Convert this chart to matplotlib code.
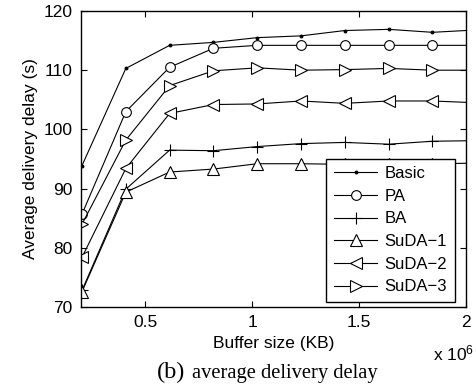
import matplotlib
matplotlib.use("Agg")
import matplotlib.pyplot as plt
from matplotlib.ticker import FuncFormatter

plt.rcParams['font.family'] = ['Liberation Sans', 'DejaVu Sans']
plt.rcParams['mathtext.fontset'] = 'custom'
plt.rcParams['mathtext.rm'] = 'Liberation Sans'
plt.rcParams['mathtext.it'] = 'Liberation Sans'

buffer_kb = [204800, 409600, 614400, 819200, 1024000, 1228800, 1433600, 1638400, 1843200, 2048000]
basic = [93.9, 110.3, 114.2, 114.7, 115.5, 115.8, 116.7, 116.9, 116.4, 116.8]
pa = [85.7, 103.0, 110.5, 113.7, 114.2, 114.2, 114.2, 114.2, 114.2, 114.2]
ba = [72.8, 89.9, 96.5, 96.4, 97.1, 97.6, 97.8, 97.5, 98.0, 98.1]
suda1 = [72.6, 89.4, 92.8, 93.3, 94.2, 94.2, 94.1, 94.2, 94.2, 94.3]
suda2 = [78.4, 93.4, 102.7, 104.2, 104.3, 104.8, 104.4, 104.8, 104.8, 104.5]
suda3 = [84.0, 98.2, 107.4, 109.9, 110.4, 110.0, 110.1, 110.3, 110.0, 110.0]

labels = ['Basic', 'PA', 'BA', 'SuDA\u22121', 'SuDA\u22122', 'SuDA\u22123']
xticks = [500000, 1000000, 1500000, 2000000]
yticks = [70, 80, 90, 100, 110, 120]

fig = plt.figure(figsize=(4.76, 3.91), dpi=100)
ax = fig.add_axes([81/476, 1 - 307/391, 385/476, 296/391])

series = [basic, pa, ba, suda1, suda2, suda3]
markers = ['.', 'o', '+', '^', '<', '>']
msizes = [4, 7, 8, 8, 8, 8]
for ys, lab, mk, ms in zip(series, labels, markers, msizes):
    ax.plot(buffer_kb, ys, color='black', lw=0.8, marker=mk, markersize=ms,
            markerfacecolor='white' if mk not in ('.', '+') else 'black',
            markeredgecolor='black', markeredgewidth=0.8, label=lab)

ax.set_xlim(200000, 2000000)
ax.set_ylim(70, 120)
ax.set_xticks(xticks)
ax.set_yticks(yticks)
ax.xaxis.set_major_formatter(FuncFormatter(lambda v, p: ('%g' % (v / 1e6))))
ax.tick_params(direction='in', top=True, right=True, length=4, width=0.8,
               labelsize=12.5, pad=6)
for s in ax.spines.values():
    s.set_linewidth(1.0)

ax.set_ylabel('Average delivery delay (s)', fontsize=12.5, labelpad=4)
ax.set_xlabel('Buffer size (KB)', fontsize=12.5, labelpad=4)

fig.text(474/476, 1 - 353/391, 'x 10$^{6}$', ha='right', va='center', fontsize=12.5)

fig.text(157/476, 1 - 378/391, '(b)', ha='left', va='baseline', fontsize=17.5,
         family='Liberation Serif')
fig.text(192/476, 1 - 378/391, 'average delivery delay', ha='left', va='baseline',
         fontsize=14.8, family='Liberation Serif')

leg = ax.legend(loc='lower right', bbox_to_anchor=(0.971, 0.017), borderaxespad=0,
                fontsize=12, handlelength=2.6, labelspacing=0.46, handletextpad=0.45,
                borderpad=0.45, fancybox=False, framealpha=1, edgecolor='black')
leg.get_frame().set_linewidth(1.0)

fig.savefig('out.png', dpi=100)
